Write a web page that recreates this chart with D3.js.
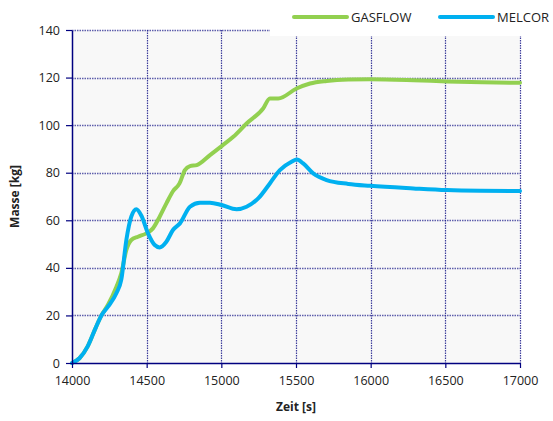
<!DOCTYPE html>
<html>
<head>
<meta charset="utf-8">
<script src="https://cdn.jsdelivr.net/npm/d3@7"></script>
<style>
  body { margin: 0; background: #fff; }
  svg { font-family: "Open Sans", sans-serif; }
</style>
</head>
<body>
<div id="wrapper"></div>
<script>
// Zeitpunkte und Massen
const gasflowTime = [14000, 14050, 14105, 14160, 14197, 14241, 14297, 14330, 14364, 14397, 14442, 14498,
    14542, 14587, 14632, 14676, 14720, 14756, 14790, 14835, 14924, 15002, 15080, 15169, 15280, 15325,
    15381, 15504, 15594, 15705, 15850, 15996, 16286, 16509, 16750, 17000];
const gasflowMass = [0, 2, 7, 15, 20, 24.5, 32, 37.7, 47.5, 51.7, 53.1, 54.5,
    56.6, 61.5, 67.1, 72.2, 75.5, 81.1, 82.8, 83.2, 87.4, 91.2, 95.1, 100.7, 107, 111.2,
    111.2, 115.4, 117.5, 118.6, 119.2, 119.3, 118.9, 118.4, 118.0, 117.8];

const melcorTime = [14000, 14050, 14105, 14160, 14197, 14241, 14297, 14330, 14364, 14397, 14431, 14464,
    14509, 14554, 14587, 14632, 14676, 14723, 14790, 14857, 14924, 15002, 15102, 15169, 15247, 15325,
    15392, 15470, 15506, 15548, 15615, 15705, 15850, 15996, 16286, 16509, 16734, 17000];
const melcorMass = [0, 2, 7, 15, 20, 23.7, 29.3, 35, 51.7, 61.5, 64.6, 62,
    54.5, 49.6, 48.6, 51, 55.9, 58.7, 65.7, 67.4, 67.4, 66.4, 64.6, 65.7, 69.2, 75.5,
    81.1, 84.6, 85.6, 83.9, 79.7, 76.9, 75.3, 74.5, 73.4, 72.7, 72.4, 72.3];

const xTicks = [14000, 14500, 15000, 15500, 16000, 16500, 17000];
const yTicks = [0, 20, 40, 60, 80, 100, 120, 140];
const seriesNames = ["GASFLOW", "MELCOR"];
const seriesColors = ["#92d050", "#00b0f0"];

const dimension = {
    width: 553,
    height: 421,
    margin: { top: 30, left: 72, bottom: 58, right: 33 }
};
dimension.boundedWidth = dimension.width - dimension.margin.left - dimension.margin.right;
dimension.boundedHeight = dimension.height - dimension.margin.top - dimension.margin.bottom;

const svg = d3.select("#wrapper").append("svg")
    .attr("width", dimension.width)
    .attr("height", dimension.height);

const bounded = svg.append("g")
    .attr("transform", `translate(${dimension.margin.left},${dimension.margin.top})`);

const xScaler = d3.scaleLinear()
    .domain([14000, 17000])
    .range([0, dimension.boundedWidth]);

const yScaler = d3.scaleLinear()
    .domain([0, 140])
    .range([dimension.boundedHeight, 0]);

// Hintergrund der Zeichenfläche
bounded.append("rect")
    .attr("width", dimension.boundedWidth)
    .attr("height", dimension.boundedHeight)
    .attr("fill", "#f8f8f8");

const gridColor = "#1c1c8c";

// horizontale Gitterlinien
bounded.append("g")
    .selectAll("line")
    .data(yTicks.filter(d => d > 0))
    .join("line")
    .attr("x1", 0)
    .attr("x2", dimension.boundedWidth)
    .attr("y1", d => Math.round(yScaler(d)) + 0.5)
    .attr("y2", d => Math.round(yScaler(d)) + 0.5)
    .attr("stroke", gridColor)
    .attr("stroke-width", 1.4)
    .attr("stroke-opacity", 0.7)
    .attr("stroke-dasharray", "1.5,1");

// vertikale Gitterlinien
bounded.append("g")
    .selectAll("line")
    .data(xTicks.filter(d => d > 14000))
    .join("line")
    .attr("x1", d => Math.round(xScaler(d)) + 0.5)
    .attr("x2", d => Math.round(xScaler(d)) + 0.5)
    .attr("y1", 0)
    .attr("y2", dimension.boundedHeight)
    .attr("stroke", gridColor)
    .attr("stroke-width", 1.2)
    .attr("stroke-opacity", 0.85)
    .attr("stroke-dasharray", "1.5,1");

// Kurven
const lineGenerator = d3.line()
    .x(d => xScaler(d[0]))
    .y(d => yScaler(d[1]))
    .curve(d3.curveMonotoneX);

const gasflowData = d3.zip(gasflowTime, gasflowMass);
const melcorData = d3.zip(melcorTime, melcorMass);

[gasflowData, melcorData].forEach((data, i) => {
    bounded.append("path")
        .attr("d", lineGenerator(data))
        .attr("fill", "none")
        .attr("stroke", seriesColors[i])
        .attr("stroke-width", 4)
        .attr("stroke-linejoin", "round")
        .attr("stroke-linecap", "round");
});

// Achsen
const x_axis = d3.axisBottom(xScaler)
    .tickValues(xTicks)
    .tickFormat(d3.format("d"))
    .tickSizeInner(5)
    .tickSizeOuter(0)
    .tickPadding(8);

const y_axis = d3.axisLeft(yScaler)
    .tickValues(yTicks)
    .tickSizeInner(6)
    .tickSizeOuter(0)
    .tickPadding(6);

const xAxisG = bounded.append("g")
    .attr("transform", `translate(0,${dimension.boundedHeight})`)
    .call(x_axis);

const yAxisG = bounded.append("g")
    .call(y_axis);

[xAxisG, yAxisG].forEach(g => {
    g.select(".domain").attr("stroke", "#000080").attr("stroke-width", 1.5);
    g.selectAll(".tick line").attr("stroke", "#000080").attr("stroke-width", 1.2);
    g.selectAll(".tick text")
        .attr("fill", "#222")
        .style("font-size", "12.5px")
        .style("font-family", "'Open Sans', sans-serif");
});

// Legende (weißer Kasten überdeckt oberen Rand)
svg.append("rect")
    .attr("x", 270)
    .attr("y", 0)
    .attr("width", dimension.width - 270)
    .attr("height", 36)
    .attr("fill", "#fff");

const legend = svg.append("g")
    .attr("transform", "translate(294,17)");

seriesNames.forEach((name, i) => {
    const item = legend.append("g")
        .attr("transform", `translate(${i * 146},0)`);
    item.append("line")
        .attr("x1", 0)
        .attr("x2", 53)
        .attr("stroke", seriesColors[i])
        .attr("stroke-width", 4)
        .attr("stroke-linecap", "round");
    item.append("text")
        .attr("x", 57)
        .attr("dy", "0.35em")
        .attr("fill", "#222")
        .style("font-size", "13px")
        .text(name);
});

// Achsentitel
svg.append("text")
    .attr("x", dimension.margin.left + dimension.boundedWidth / 2)
    .attr("y", 411)
    .attr("text-anchor", "middle")
    .attr("fill", "#222")
    .style("font-size", "12px")
    .style("font-weight", "bold")
    .text("Zeit [s]");

svg.append("text")
    .attr("transform", `translate(19,${dimension.margin.top + dimension.boundedHeight / 2}) rotate(-90)`)
    .attr("text-anchor", "middle")
    .attr("fill", "#222")
    .style("font-size", "12px")
    .style("font-weight", "bold")
    .text("Masse [kg]");
</script>
</body>
</html>
